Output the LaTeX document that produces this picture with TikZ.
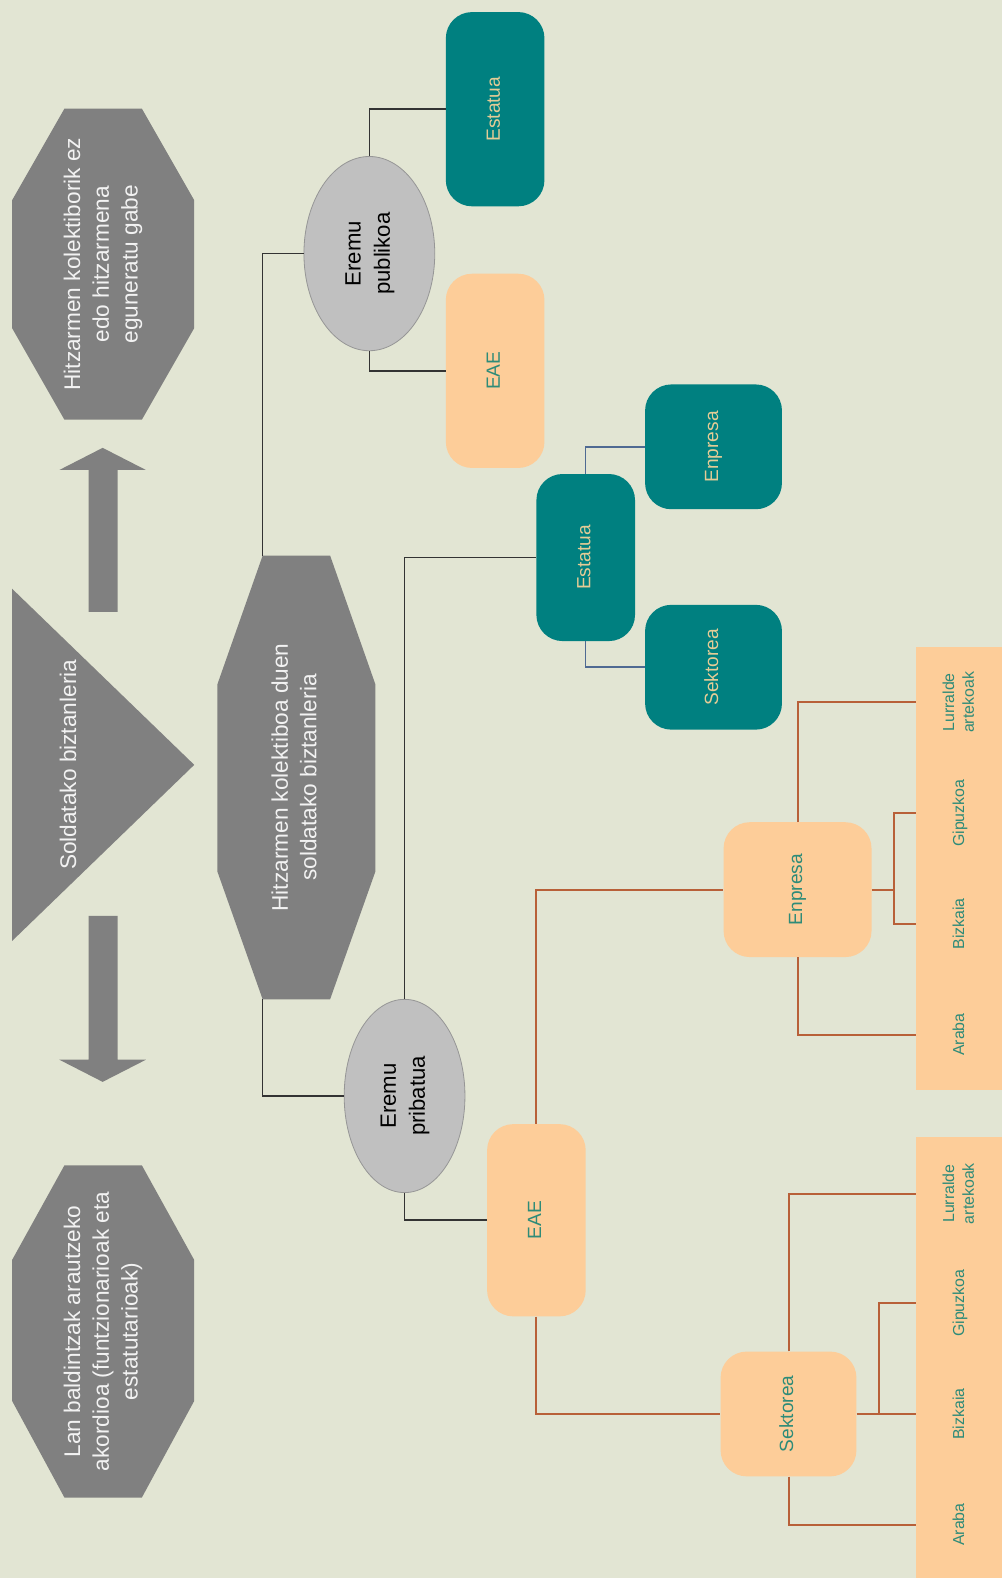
\documentclass[tikz,border=0pt]{standalone}
\usepackage{fontspec}
\usepackage{graphicx}
\setmainfont{Liberation Sans}
\usetikzlibrary{shapes.geometric}
\definecolor{bg}{RGB}{226,229,211}
\definecolor{shapegray}{RGB}{128,128,128}
\definecolor{tealc}{RGB}{0,128,128}
\definecolor{peach}{RGB}{253,205,153}
\definecolor{ellfill}{RGB}{192,192,192}
\definecolor{ellborder}{RGB}{150,150,150}
\definecolor{linedark}{RGB}{51,51,51}
\definecolor{lineblue}{RGB}{79,106,146}
\definecolor{lineorange}{RGB}{184,96,56}
\definecolor{tanText}{RGB}{228,204,150}
\definecolor{tealText}{RGB}{46,139,120}
\definecolor{octText}{RGB}{242,242,242}
\newcommand{\rtext}[1]{\rotatebox{90}{\begin{tabular}{@{}c@{}}#1\end{tabular}}}
\newcommand{\myfs}[2]{\fontsize{#1}{#2}\selectfont}
\begin{document}
\begin{tikzpicture}[x=1pt,y=-1pt,
  octa/.style={fill=shapegray},
  bigtext/.style={text=octText, font=\myfs{22.5}{28.5}, inner sep=0pt},
  tealbox/.style={rectangle, rounded corners=26pt, fill=tealc, text=tanText, font=\myfs{19}{23}, inner sep=0pt},
  peachbox/.style={rectangle, rounded corners=26pt, fill=peach, text=tealText, font=\myfs{19}{23}, inner sep=0pt},
  ell/.style={ellipse, fill=ellfill, draw=ellborder, line width=0.8pt, inner sep=0pt, font=\myfs{22}{29}, text=black},
  lab/.style={inner sep=0pt, minimum width=88pt, minimum height=40pt, text=tealText, font=\myfs{15.8}{19.5}},
  conn/.style={line width=1.5pt, draw=linedark},
  connB/.style={line width=1.5pt, draw=lineblue},
  connO/.style={line width=2pt, draw=lineorange}]
\useasboundingbox (0,0) rectangle (996,1568);
\fill[bg] (0,0) rectangle (996,1568);

% left column shapes
\fill[octa] (64,108) -- (141,108) -- (193,199) -- (193,326) -- (141,417) -- (64,417) -- (12,326) -- (12,199) -- cycle;
\node[bigtext] (octTop) at (102.5,262.5) {\rtext{Hitzarmen kolektiborik ez\\edo hitzarmena\\eguneratu gabe}};

\fill[octa] (102,445) -- (145,467) -- (117,467) -- (117,608) -- (88,608) -- (88,467) -- (59,467) -- cycle;

\fill[octa] (12,585) -- (193,760) -- (12,935) -- cycle;
\node[bigtext] (tri) at (70,760) {\rtext{Soldatako biztanleria}};

\fill[octa] (88,910) -- (117,910) -- (117,1053) -- (145,1053) -- (102,1075) -- (59,1053) -- (88,1053) -- cycle;

\fill[octa] (64,1158) -- (141,1158) -- (193,1252) -- (193,1392) -- (141,1488) -- (64,1488) -- (12,1392) -- (12,1252) -- cycle;
\node[bigtext] (octBot) at (102.5,1323) {\rtext{Lan baldintzak arautzeko\\akordioa (funtzionarioak eta\\estatutarioak)}};

% middle octagon
\coordinate (midTL) at (261,552);
\coordinate (midBL) at (261,993);
\fill[octa] (midTL) -- (328,552) -- (373,680) -- (373,866) -- (328,993) -- (midBL) -- (216,866) -- (216,680) -- cycle;
\node[bigtext] (octMid) at (294.5,772.5) {\rtext{Hitzarmen kolektiboa duen\\soldatako biztanleria}};

% ellipses
\node[ell, minimum width=130pt, minimum height=193pt] (pub) at (367,252) {\rtext{Eremu\\publikoa}};
\node[ell, minimum width=120pt, minimum height=192pt] (pri) at (402,1089) {\rtext{Eremu\\pribatua}};

% boxes
\node[tealbox, minimum width=98pt, minimum height=193pt] (estA) at (492,108.5) {\rtext{Estatua}};
\node[peachbox, minimum width=98pt, minimum height=193pt] (eaeA) at (492,368.5) {\rtext{EAE}};
\node[tealbox, minimum width=98pt, minimum height=166pt] (estB) at (582,554) {\rtext{Estatua}};
\node[tealbox, minimum width=136pt, minimum height=124pt] (enpB) at (709,444) {\rtext{Enpresa}};
\node[tealbox, minimum width=136pt, minimum height=124pt] (sekB) at (709,663) {\rtext{Sektorea}};
\node[peachbox, minimum width=98pt, minimum height=191pt] (eaeC) at (533,1212.5) {\rtext{EAE}};
\node[peachbox, minimum width=147pt, minimum height=134pt] (enpC) at (792.5,884) {\rtext{Enpresa}};
\node[peachbox, minimum width=135pt, minimum height=124pt] (sekC) at (783.5,1405) {\rtext{Sektorea}};

% label strips
\fill[peach] (910,643) rectangle (996,1083);
\fill[peach] (910,1130) rectangle (996,1568);
\node[lab] (l1L) at (954,698) {\rtext{Lurralde\\artekoak}};
\node[lab] (l1G) at (954,808) {\rtext{Gipuzkoa}};
\node[lab] (l1B) at (954,918) {\rtext{Bizkaia}};
\node[lab] (l1A) at (954,1028) {\rtext{Araba}};
\node[lab] (l2L) at (954,1186) {\rtext{Lurralde\\artekoak}};
\node[lab] (l2G) at (954,1295) {\rtext{Gipuzkoa}};
\node[lab] (l2B) at (954,1405) {\rtext{Bizkaia}};
\node[lab] (l2A) at (954,1515) {\rtext{Araba}};

\coordinate (j1) at (888,884);
\coordinate (j2) at (873,1405);

% connectors
\draw[conn] (midTL) |- (pub.west);
\draw[conn] (midBL) |- (pri.west);
\draw[conn] (pub.north) |- (estA.west);
\draw[conn] (pub.south) |- (eaeA.west);
\draw[conn] (pri.north) |- (estB.west);
\draw[conn] (pri.south) |- (eaeC.west);
\draw[connB] (estB.north) |- (enpB.west);
\draw[connB] (estB.south) |- (sekB.west);
\draw[connO] (eaeC.north) |- (enpC.west);
\draw[connO] (eaeC.south) |- (sekC.west);
\draw[connO] (enpC.north) |- (l1L.west);
\draw[connO] (enpC.south) |- (l1A.west);
\draw[connO] (enpC.east) -- (j1);
\draw[connO] (j1) |- (l1G.west);
\draw[connO] (j1) |- (l1B.west);
\draw[connO] (sekC.north) |- (l2L.west);
\draw[connO] (sekC.south) |- (l2A.west);
\draw[connO] (sekC.east) -- (l2B.west);
\draw[connO] (j2) |- (l2G.west);
\end{tikzpicture}
\end{document}
